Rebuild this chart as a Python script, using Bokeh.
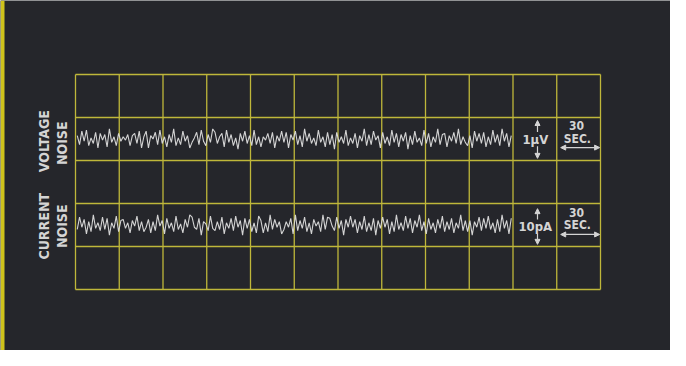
import math
from bokeh.plotting import figure
from bokeh.models import Arrow, NormalHead, Range1d, BoxAnnotation
from bokeh.core.properties import value
from bokeh.embed import file_html
from bokeh.resources import INLINE

# grid divisions
n_cols = 12
n_rows = 5
trace_divs = 10

# trace centres (row units, counted from bottom)
voltage_center = 3.5
current_center = 1.5

# noise samples (arbitrary amplitude units)
voltage_noise = [
    3, -5, 7, -2, 8, -6, 1, -4, 6, -8, 5, -1, 4, -7, 9, -3, 2, -6, 5, -2,
    2, -1, 4, -6, 3, 5, -4, 7, -8, 2,
    7, -8, 3, 0, 6, -5, 8, -4, 2, -7, 4, -3, 9, -6, 1, -5, 7, -2, 3, -8,
    -3, 1, 6, -5, 8, -2, -6, 4, -3, 9,
    6, -4, 2, 5, -7, 8, -3, 4, -6, 1, -9, 5, -2, 7, -4, 3, -6, 8, -5, 2,
    -7, 2, -1, 5, -4, 6, -8, 3, -2, 7,
    -3, 6, -8, 4, -1, 7, -5, 3, -7, 9, -2, 5, -4, 1, -6, 8, -3, 2, -7, 6,
    -5, 4, -9, 6, -3, 2, -4, 8, -6, 1,
    -4, 5, -8, 3, -2, 9, -6, 4, -5, 7, -1, 3, -8, 6, -4, 2, -6, 8, -3, 5,
    -7, 4, -2, 6, -9, 3, -5, 7, -3, 1, -6, 8, -4, 5, -7, 2, -3, 9, -5, 4,
    5, -7, 3, -2, 6, -4, 9, -5, 2, -3,
    -6, 3, -8, 7, -2, 5, -4, 6, -7, 2, -5, 8, -3, 4, -6, 9, -2, 5, -7, 3,
]
current_noise = [
    -4, 7, -2, 5, -8, 3, -6, 9, -3, 2, -5, 7, -4, 6, -9, 2, -3, 8, -6, 4,
    5, -3, 2, -7, 4, -1, 8, -5, 3, -6,
    -2, 5, -7, 3, -5, 9, -1, 4, -8, 6, -3, 2, -6, 8, -4, 1, -7, 5, -2, 9,
    7, -2, -4, 6, -9, 3, 1, -5, 8, -3,
    -5, 3, -4, 7, -8, 2, -3, 6, -5, 8, -2, 4, -9, 6, -3, 5, -6, 2, -7, 8,
    4, -7, 2, -6, 9, -4, 5, -2, 3, -8,
    -4, 3, -2, 6, -8, 9, -5, 4, -3, 7, -6, 2, -8, 5, -1, 3, -6, 9, -4, 7,
    6, -1, -5, 7, -3, 4, -9, 5, -2, 8,
    -2, 5, -7, 3, -4, 8, -6, 2, -5, 6, -9, 4, -3, 7, -2, 5, -8, 3, -6, 9,
    -4, 2, -5, 8, -3, 6, -7, 4, -2, 9, -5, 3, -8, 6, -4, 2, -7, 5, -3, 8,
    -6, 3, -4, 6, -7, 2, -3, 9, -5, 4,
    -6, 4, -9, 3, -2, 7, -5, 6, -3, 8, -4, 2, -7, 5, -6, 9, -3, 4, -8, 6,
]

# text
voltage_label = ["VOLTAGE", "NOISE"]
current_label = ["CURRENT", "NOISE"]
voltage_scale = "1\u03bcV"
current_scale = "10pA"
time_scale = ["30", "SEC."]

BG = "#25262b"
GRID = "#bfb73a"
EDGE = "#cfc31c"
TRACE = "#dcdcdc"
TXT = "#d4d4d4"
FONT = "'DejaVu Sans Condensed', 'Liberation Sans Narrow', Roboto, sans-serif"

W, H = 670, 350
left_px, right_px, top_px, bottom_px = 75, 70, 74, 61
ux = (W - left_px - right_px) / n_cols
uy = (H - top_px - bottom_px) / n_rows
amp = 0.026  # division per noise unit

p = figure(width=W, height=H, output_backend="svg", toolbar_location=None,
           x_range=Range1d(-left_px / ux, n_cols + right_px / ux),
           y_range=Range1d(-bottom_px / uy, n_rows + top_px / uy),
           min_border=0)
p.xaxis.visible = False
p.yaxis.visible = False
p.xgrid.visible = False
p.ygrid.visible = False
p.background_fill_color = BG
p.border_fill_color = BG
p.outline_line_color = None

# yellow edge of the photographed card
p.add_layout(BoxAnnotation(left=0, right=4, left_units="screen", right_units="screen",
                           fill_color=EDGE, fill_alpha=1, line_color=None))

# scope graticule
gx = [[c, c] for c in range(n_cols + 1)] + [[0, n_cols] for r in range(n_rows + 1)]
gy = [[0, n_rows] for c in range(n_cols + 1)] + [[r, r] for r in range(n_rows + 1)]
p.multi_line(gx, gy, line_color=GRID, line_width=1.3)

def trace(values, center):
    n = len(values)
    xs = [0.04 + i * (trace_divs - 0.08) / (n - 1) for i in range(n)]
    ys = [center + v * amp for v in values]
    p.line(xs, ys, line_color=TRACE, line_width=1.1, line_alpha=0.95)

trace(voltage_noise, voltage_center)
trace(current_noise, current_center)

def lab(x, y, text, size=13, angle=0.0):
    p.text([x], [y], text=[text], text_color=TXT, text_font=value(FONT),
           text_font_style="bold", text_font_size=f"{size}px",
           text_align="center", text_baseline="middle", angle=angle)

# left labels
lab(-0.71, voltage_center - 0.05, voltage_label[0], size=14, angle=math.pi / 2)
lab(-0.30, voltage_center - 0.1, voltage_label[1], size=14, angle=math.pi / 2)
lab(-0.71, current_center - 0.03, current_label[0], size=14, angle=math.pi / 2)
lab(-0.30, current_center - 0.03, current_label[1], size=14, angle=math.pi / 2)

def scale_block(center, text, up, down, tline, ty30, tysec):
    lab(10.51, center - 0.01, text, size=13)
    for a, b in ((center + 0.16, up), (center - 0.17, down)):
        p.add_layout(Arrow(x_start=10.56, y_start=a, x_end=10.56, y_end=b,
                           line_color=TXT, line_width=1.2,
                           end=NormalHead(size=5, fill_color=TXT, line_color=TXT)))
    lab(11.45, ty30, time_scale[0], size=12)
    lab(11.47, tysec, time_scale[1], size=12)
    p.add_layout(Arrow(x_start=11.09, y_start=tline, x_end=11.98, y_end=tline,
                       line_color=TXT, line_width=1.2,
                       start=NormalHead(size=5, fill_color=TXT, line_color=TXT),
                       end=NormalHead(size=5, fill_color=TXT, line_color=TXT)))

scale_block(voltage_center, voltage_scale, 3.93, 3.05, 3.30, 3.81, 3.49)
scale_block(current_center - 0.03, current_scale, 1.88, 1.05, 1.28, 1.79, 1.49)

open("out.html", "w").write(file_html(p, INLINE))
